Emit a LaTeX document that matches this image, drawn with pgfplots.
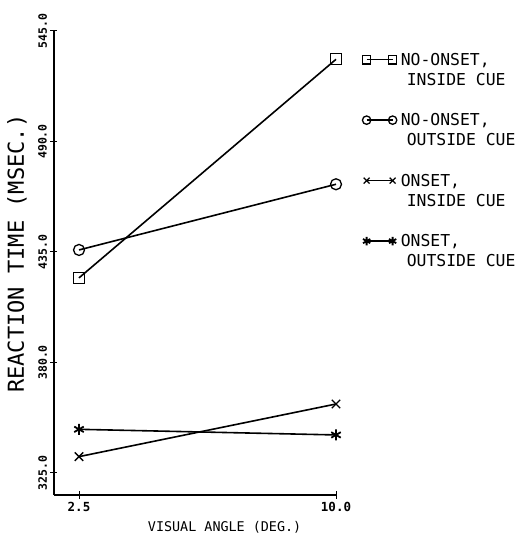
\documentclass[border=0pt]{standalone}
\usepackage{fontspec}
\setmainfont{DejaVu Sans Mono}
\usepackage{pgfplots}
\pgfplotsset{compat=1.18}
\begin{document}
\begin{tikzpicture}
\useasboundingbox (-54pt,-51pt) rectangle (464pt,495pt);
\begin{axis}[
  scale only axis, width=282pt, height=464pt,
  xmin=1.77, xmax=10, ymin=314, ymax=545,
  axis x line=bottom, axis y line=left,
  axis line style={-, line width=1.4pt},
  xtick={2.5,10}, ytick={325,380,435,490,545},
  tick align=center, major tick length=7pt,
  tick style={line width=1pt, black},
  /pgf/number format/assume math mode=true,
  xticklabel style={/pgf/number format/fixed, /pgf/number format/fixed zerofill, /pgf/number format/precision=1, font=\fontsize{12.5}{14}\selectfont\bfseries},
  yticklabel style={/pgf/number format/fixed, /pgf/number format/fixed zerofill, /pgf/number format/precision=1, rotate=90, anchor=south, font=\fontsize{11.5}{14}\selectfont\bfseries},
  xlabel={VISUAL ANGLE (DEG.)},
  ylabel={REACTION TIME (MSEC.)},
  xlabel style={at={(axis description cs:0.605,-0.069)}, anchor=center, font=\fontsize{13.4}{16}\selectfont},
  ylabel style={at={(axis description cs:-0.131,0.52)}, anchor=center, font=\fontsize{22}{26}\selectfont},
  legend style={at={(rel axis cs:1.093,0.953)}, anchor=north west, draw=none, fill=none,
    font=\fontsize{16.4}{20}\selectfont, row sep=26.8pt, inner sep=0pt, column sep=4pt,
    nodes={align=left, inner sep=0pt, anchor=base west}},
  legend image code/.code={\draw[#1, mark size=4.2pt, yshift=25.5pt] plot coordinates {(0pt,0pt) (26pt,0pt)};},
  clip=false,
]
\addplot[black, line width=1.6pt, mark=square, mark size=5.5pt, mark options={line width=1.3pt}] coordinates {(2.5,422.1) (10,530.9)};
\addlegendentry{NO-ONSET,\\\hspace*{6pt}INSIDE CUE}
\addplot[black, line width=1.6pt, mark=o, mark size=5.5pt, mark options={line width=1.3pt}] coordinates {(2.5,436.0) (10,468.7)};
\addlegendentry{NO-ONSET,\\\hspace*{6pt}OUTSIDE CUE}
\addplot[black, line width=1.6pt, mark=x, mark size=6pt, mark options={line width=1.3pt}] coordinates {(2.5,333.1) (10,359.3)};
\addlegendentry{ONSET,\\\hspace*{6pt}INSIDE CUE}
\addplot[black, line width=1.6pt, mark=asterisk, mark size=5.5pt, mark options={line width=1.8pt}] coordinates {(2.5,346.7) (10,343.9)};
\addlegendentry{ONSET,\\\hspace*{6pt}OUTSIDE CUE}
\end{axis}
\end{tikzpicture}
\end{document}
